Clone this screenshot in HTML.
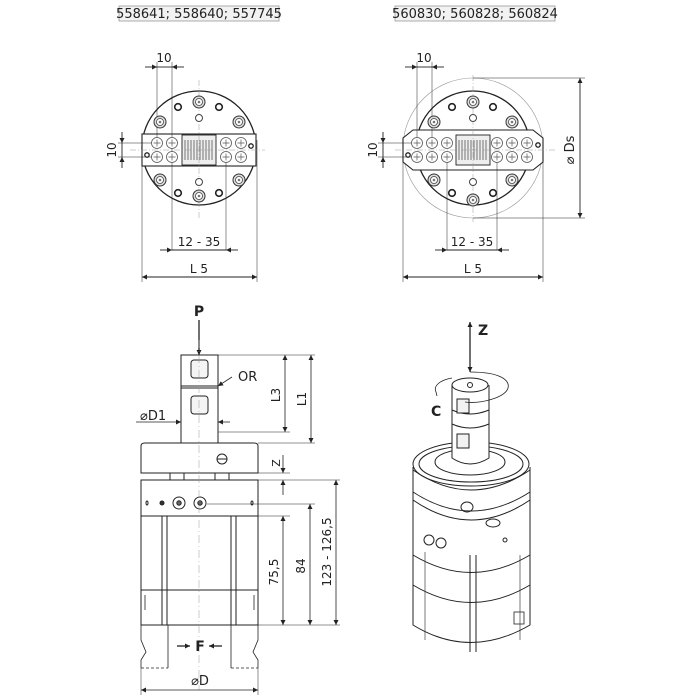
<!DOCTYPE html>
<html><head><meta charset="utf-8"><style>
html,body{margin:0;padding:0;background:#fff;width:700px;height:700px;overflow:hidden}
svg{display:block}
text{font-family:"DejaVu Sans","Liberation Sans",sans-serif;fill:#222}
</style></head><body>
<svg width="700" height="700" viewBox="0 0 700 700" xmlns="http://www.w3.org/2000/svg">
<defs>
<marker id="a" viewBox="0 0 10 10" refX="10" refY="5" markerWidth="8" markerHeight="5" orient="auto-start-reverse" markerUnits="userSpaceOnUse"><path d="M0,0L10,5L0,10z" fill="#222"/></marker>
<g id="hole"><circle r="5.5" fill="#fff" stroke="#555" stroke-width="0.8"/><path d="M-3.5,0H3.5M0,-3.5V3.5" stroke="#555" stroke-width="0.7"/></g>
<g id="bolt"><circle r="6" fill="#ddd" stroke="#333" stroke-width="1"/><circle r="3.5" fill="#fff" stroke="#444" stroke-width="0.8"/><circle r="1.3" fill="#777"/></g>
<g id="dot"><circle r="3.3" fill="#fff" stroke="#222" stroke-width="1.6"/></g>
</defs>
<g stroke="#222" fill="none" stroke-width="0.8">
<rect x="119" y="6" width="160" height="15" fill="#f2f2f2" stroke="#999"/>
<rect x="395" y="6" width="160" height="15" fill="#f2f2f2" stroke="#999"/>
</g>
<text x="199" y="18" font-size="13" text-anchor="middle">558641; 558640; 557745</text>
<text x="475" y="18" font-size="13" text-anchor="middle">560830; 560828; 560824</text>

<!-- TOP LEFT -->
<g stroke="#222" fill="none" stroke-width="0.9">
<circle cx="199" cy="148" r="57" stroke-width="1.3"/>
<rect x="142" y="134" width="114" height="32" fill="#fff" stroke-width="1.1"/>
<rect x="182" y="135" width="34" height="30" fill="#eee"/>
<path d="M185,140 v20 M188,140 v20 M191,140 v20 M194,140 v20 M197,140 v20 M200,140 v20 M203,140 v20 M206,140 v20 M209,140 v20 M212,140 v20" stroke="#555" stroke-width="0.8"/>
<path d="M199,80 V220 M130,150 H265" stroke="#999" stroke-width="0.5" stroke-dasharray="6,2,1,2"/>
<path d="M157,62 V143 M172,62 V250 M226,160 V250 M142,166 V282 M257,140 V282 M118,143 H160 M118,157 H160" stroke-width="0.5"/>
<path d="M145,67 H157" marker-end="url(#a)"/><path d="M184,67 H172" marker-end="url(#a)"/>
<path d="M157,67 H172"/>
<path d="M122,132 V143" marker-end="url(#a)"/><path d="M122,168 V157" marker-end="url(#a)"/>
<path d="M122,143 V157"/>
<path d="M160,250 H172" marker-end="url(#a)"/><path d="M238,250 H226" marker-end="url(#a)"/>
<path d="M172,250 H226"/>
<path d="M142,277 H257" marker-start="url(#a)" marker-end="url(#a)"/>
</g>
<g>
<use href="#hole" x="157" y="143"/><use href="#hole" x="172" y="143"/><use href="#hole" x="226" y="143"/><use href="#hole" x="241" y="143"/>
<use href="#hole" x="157" y="157"/><use href="#hole" x="172" y="157"/><use href="#hole" x="226" y="157"/><use href="#hole" x="241" y="157"/>
<use href="#bolt" x="199" y="102"/><use href="#bolt" x="199" y="196"/><use href="#bolt" x="160" y="122"/><use href="#bolt" x="239" y="122"/><use href="#bolt" x="160" y="180"/><use href="#bolt" x="239" y="180"/>
<use href="#dot" x="178" y="107"/><use href="#dot" x="219" y="107"/><use href="#dot" x="178" y="193"/><use href="#dot" x="219" y="193"/>
<circle cx="199" cy="118" r="3.5" fill="#fff" stroke="#444"/><circle cx="199" cy="182" r="3.5" fill="#fff" stroke="#444"/>
<circle cx="251" cy="146" r="2.2" fill="#fff" stroke="#222" stroke-width="1.3"/><circle cx="147" cy="155" r="2.2" fill="#fff" stroke="#222" stroke-width="1.3"/>
</g>
<text x="164" y="62" font-size="12" text-anchor="middle">10</text>
<text x="116" y="150" font-size="12" text-anchor="middle" transform="rotate(-90 116 150)">10</text>
<text x="199" y="246" font-size="12" text-anchor="middle">12 - 35</text>
<text x="199" y="273" font-size="12" text-anchor="middle">L 5</text>

<!-- TOP RIGHT -->
<g stroke="#222" fill="none" stroke-width="0.9">
<circle cx="473" cy="148" r="70" stroke="#999" stroke-width="0.6"/>
<circle cx="473" cy="148" r="57" stroke-width="1.3"/>
<path d="M413,130 H533 L543,138 V162 L533,170 H413 L403,162 V138 Z" fill="#fff" stroke-width="1.1"/>
<rect x="456" y="135" width="34" height="30" fill="#eee"/>
<path d="M459,140 v20 M462,140 v20 M465,140 v20 M468,140 v20 M471,140 v20 M474,140 v20 M477,140 v20 M480,140 v20 M483,140 v20 M486,140 v20" stroke="#555" stroke-width="0.8"/>
<path d="M473,75 V222 M395,150 H555" stroke="#999" stroke-width="0.5" stroke-dasharray="6,2,1,2"/>
<path d="M417,62 V143 M432,62 V143 M447,160 V250 M497,160 V250 M403,160 V282 M543,160 V282 M378,143 H420 M378,157 H420 M473,78 H585 M473,218 H585" stroke-width="0.5"/>
<path d="M405,67 H417" marker-end="url(#a)"/><path d="M444,67 H432" marker-end="url(#a)"/>
<path d="M417,67 H432"/>
<path d="M383,132 V143" marker-end="url(#a)"/><path d="M383,168 V157" marker-end="url(#a)"/>
<path d="M383,143 V157"/>
<path d="M435,250 H447" marker-end="url(#a)"/><path d="M509,250 H497" marker-end="url(#a)"/>
<path d="M447,250 H497"/>
<path d="M403,277 H543" marker-start="url(#a)" marker-end="url(#a)"/>
<path d="M580,78 V218" marker-start="url(#a)" marker-end="url(#a)"/>
</g>
<g>
<use href="#hole" x="417" y="143"/><use href="#hole" x="432" y="143"/><use href="#hole" x="447" y="143"/><use href="#hole" x="497" y="143"/><use href="#hole" x="512" y="143"/><use href="#hole" x="527" y="143"/>
<use href="#hole" x="417" y="157"/><use href="#hole" x="432" y="157"/><use href="#hole" x="447" y="157"/><use href="#hole" x="497" y="157"/><use href="#hole" x="512" y="157"/><use href="#hole" x="527" y="157"/>
<use href="#bolt" x="473" y="102"/><use href="#bolt" x="473" y="200"/><use href="#bolt" x="434" y="122"/><use href="#bolt" x="512" y="122"/><use href="#bolt" x="434" y="180"/><use href="#bolt" x="512" y="180"/>
<use href="#dot" x="452" y="107"/><use href="#dot" x="493" y="107"/><use href="#dot" x="452" y="193"/><use href="#dot" x="493" y="193"/>
<circle cx="473" cy="118" r="3.5" fill="#fff" stroke="#444"/><circle cx="473" cy="182" r="3.5" fill="#fff" stroke="#444"/>
<circle cx="538" cy="145" r="2.2" fill="#fff" stroke="#222" stroke-width="1.3"/><circle cx="408" cy="155" r="2.2" fill="#fff" stroke="#222" stroke-width="1.3"/>
</g>
<text x="424" y="62" font-size="12" text-anchor="middle">10</text>
<text x="377" y="150" font-size="12" text-anchor="middle" transform="rotate(-90 377 150)">10</text>
<text x="472" y="246" font-size="12" text-anchor="middle">12 - 35</text>
<text x="473" y="273" font-size="12" text-anchor="middle">L 5</text>
<text x="574" y="150" font-size="13" text-anchor="middle" transform="rotate(-90 574 150)">⌀ Ds</text>

<!-- BOTTOM LEFT -->
<g stroke="#222" fill="none" stroke-width="1">
<path d="M199,320 V355" stroke-width="1.3" marker-end="url(#a)"/>
<rect x="181" y="355" width="37" height="88" fill="#fff"/>
<path d="M181,386 H218 M181,388 H218"/>
<rect x="191" y="360" width="17" height="18" rx="3" fill="#f4f4f4"/>
<rect x="191" y="396" width="17" height="18" rx="3" fill="#f4f4f4"/>
<path d="M141,446 Q141,443 145,443 H254 Q258,443 258,446 V473 H141 Z" fill="#fff"/>
<circle cx="222" cy="459" r="5" fill="#fff"/><path d="M217,459 H227"/>
<path d="M170,473 v7 h14 v-7 M215,473 v7 h14 v-7 M141,480 H258"/>
<rect x="141" y="480" width="117" height="145" fill="#fff"/>
<path d="M141,516 H258 M141,590 H258 M162,516 V625 M167,516 V625 M231,516 V625 M236,516 V625"/>
<path d="M145,595 v15 M254,595 v15" stroke-width="0.8"/>
<circle cx="179" cy="503" r="6"/><circle cx="179" cy="503" r="2.2" fill="#666"/>
<circle cx="200" cy="503" r="6"/><circle cx="200" cy="503" r="2.2" fill="#666"/>
<circle cx="162" cy="503" r="2" fill="#333"/><ellipse cx="147" cy="503" rx="1" ry="2"/><ellipse cx="252" cy="503" rx="1" ry="2"/>
<path d="M141,625 V640 L146,652 L141,660 V668 M168,625 V668 M231,625 V668 M258,625 V640 L253,652 L258,660 V668" stroke-width="0.8"/>
<path d="M141,668 H168 M231,668 H258" stroke-dasharray="3,2" stroke-width="0.7"/>
<path d="M199,340 V690" stroke="#999" stroke-width="0.5" stroke-dasharray="8,3,1,3"/>
<path d="M218,355 H315 M218,432 H290 M258,443 H315 M258,473 H290 M258,480 H340 M207,504 H315 M236,516 H290 M258,625 H340 M141,668 V695 M258,668 V695" stroke-width="0.5"/>
<path d="M285,355 V432" stroke-width="0.8" marker-start="url(#a)" marker-end="url(#a)"/>
<path d="M311,355 V443" stroke-width="0.8" marker-start="url(#a)" marker-end="url(#a)"/>
<path d="M336,480 V625" stroke-width="0.8" marker-start="url(#a)" marker-end="url(#a)"/>
<path d="M310,504 V625" stroke-width="0.8" marker-start="url(#a)" marker-end="url(#a)"/>
<path d="M283,516 V625" stroke-width="0.8" marker-start="url(#a)" marker-end="url(#a)"/>
<path d="M141,690 H258" stroke-width="0.8" marker-start="url(#a)" marker-end="url(#a)"/>
<path d="M283,455 V473" stroke-width="0.8" marker-end="url(#a)"/><path d="M283,495 V480" stroke-width="0.8" marker-end="url(#a)"/>
<path d="M136,422 H181" stroke-width="0.8" marker-end="url(#a)"/><path d="M230,422 H218" stroke-width="0.8" marker-end="url(#a)"/>
<path d="M232,377 L218,386" stroke-width="0.8" marker-end="url(#a)"/>
<path d="M177,646 H190" stroke-width="1.3" marker-end="url(#a)"/><path d="M222,646 H209" stroke-width="1.3" marker-end="url(#a)"/>
</g>
<text x="199" y="316" font-size="14" font-weight="bold" text-anchor="middle">P</text>
<text x="238" y="381" font-size="13">OR</text>
<text x="140" y="420" font-size="13">⌀D1</text>
<text x="280" y="395" font-size="12" text-anchor="middle" transform="rotate(-90 280 395)">L3</text>
<text x="306" y="399" font-size="12" text-anchor="middle" transform="rotate(-90 306 399)">L1</text>
<text x="280" y="463" font-size="11" text-anchor="middle" transform="rotate(-90 280 463)">Z</text>
<text x="278" y="572" font-size="12" text-anchor="middle" transform="rotate(-90 278 572)">75,5</text>
<text x="305" y="566" font-size="12" text-anchor="middle" transform="rotate(-90 305 566)">84</text>
<text x="331" y="552" font-size="12" text-anchor="middle" transform="rotate(-90 331 552)">123 - 126,5</text>
<text x="200" y="651" font-size="14" font-weight="bold" text-anchor="middle">F</text>
<text x="200" y="685" font-size="13" text-anchor="middle">⌀D</text>

<!-- BOTTOM RIGHT 3D -->
<g stroke="#222" fill="none" stroke-width="1">
<path d="M470,322 V372" stroke-width="1.3" marker-start="url(#a)" marker-end="url(#a)"/>
<path d="M413,467 V625 Q470,660 530,625 V467" fill="#fff"/>
<ellipse cx="471" cy="464" rx="58" ry="22" fill="#fff"/>
<ellipse cx="471" cy="464" rx="52" ry="18"/>
<ellipse cx="470" cy="462" rx="35" ry="13"/>
<path d="M413,470 Q471,510 530,470" />
<path d="M413,492 Q471,530 530,492 M413,500 Q471,540 530,500 M413,555 Q471,590 530,555 M413,585 Q471,620 530,585"/>
<path d="M452,385 V458 Q470,470 489,458 V385" fill="#fff"/>
<ellipse cx="470" cy="385" rx="18" ry="7" fill="#fff"/>
<circle cx="470" cy="385" r="2.5"/>
<path d="M452,410 Q470,418 489,410 M452,424 Q470,432 489,424"/>
<rect x="457" y="399" width="12" height="14" fill="#f2f2f2"/>
<rect x="457" y="434" width="12" height="14" fill="#f2f2f2"/>
<path d="M470,372 C500,372 510,380 508,388 C505,398 480,404 465,402" stroke-width="0.8"/>
<path d="M452,378 C440,380 433,386 436,392 L437,396" stroke-width="0.8"/>
<ellipse cx="467" cy="507" rx="6" ry="5"/>
<ellipse cx="493" cy="523" rx="7" ry="4"/>
<circle cx="429" cy="540" r="5"/><circle cx="441" cy="543" r="5"/>
<circle cx="505" cy="540" r="2"/>
<path d="M470,555 V652 M476,555 V652"/>
<path d="M425,552 V640 M520,555 V640" stroke-width="0.6"/>
<rect x="514" y="612" width="10" height="12" stroke-width="0.8"/>
</g>
<text x="478" y="335" font-size="14" font-weight="bold">Z</text>
<text x="431" y="416" font-size="14" font-weight="bold">C</text>
</svg>
</body></html>
